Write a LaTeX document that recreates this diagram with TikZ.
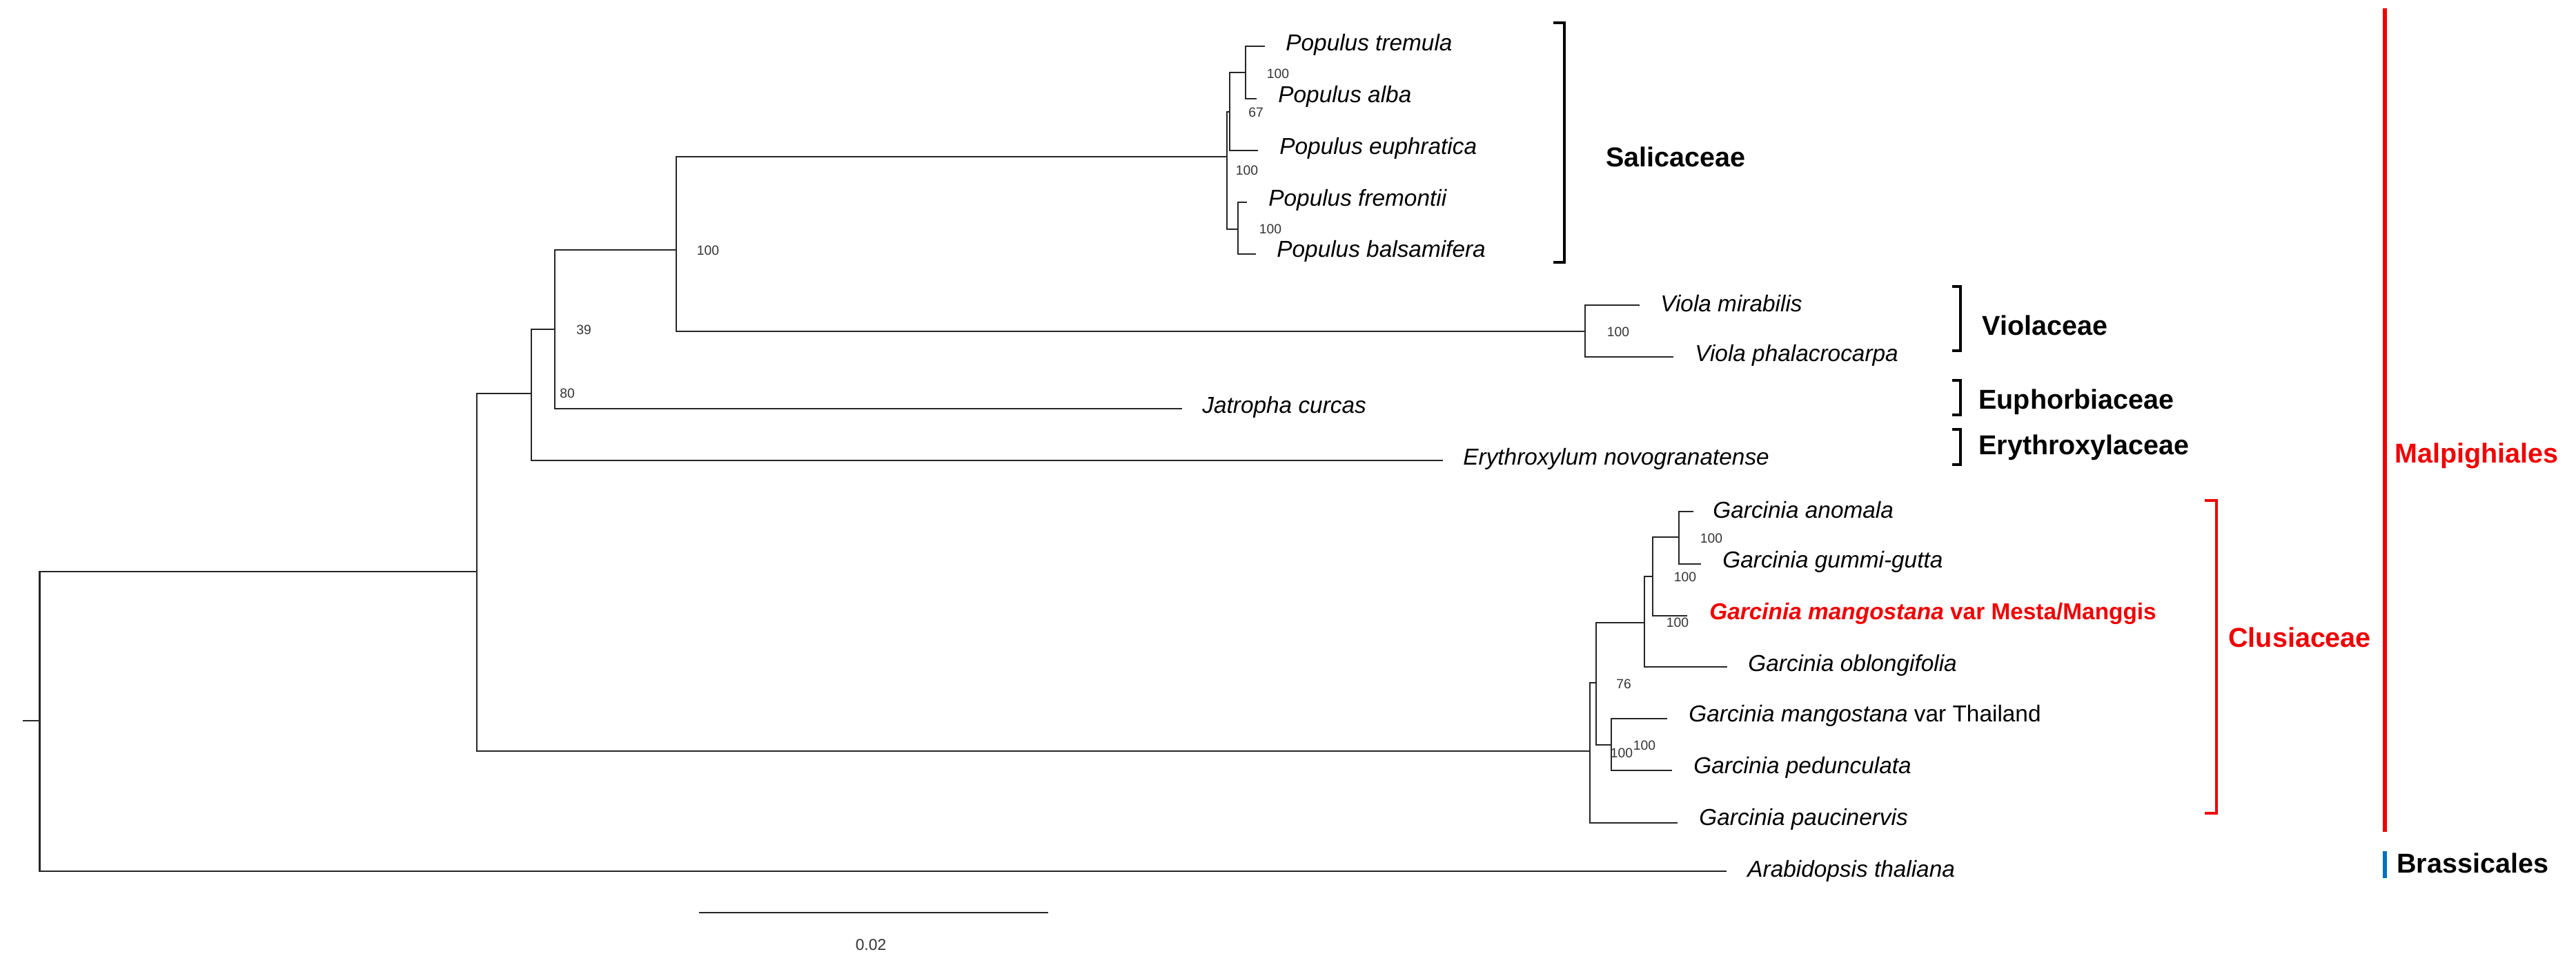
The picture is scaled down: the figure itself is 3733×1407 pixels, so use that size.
\documentclass[tikz,border=0pt]{standalone}
\usepackage{fontspec}
\setmainfont{Liberation Sans}
\definecolor{myred}{RGB}{240,0,0}
\definecolor{myblue}{RGB}{0,112,192}
\begin{document}
\begin{tikzpicture}[x=0.02cm,y=-0.02cm,
  br/.style={line width=1.6pt,black!85},
  bk/.style={line width=2.4pt},
  taxon/.style={anchor=west,inner sep=0pt,font=\fontsize{19}{22}\selectfont\itshape},
  fam/.style={anchor=west,inner sep=0pt,font=\fontsize{22.5}{26}\selectfont\bfseries},
  sup/.style={inner sep=0pt,font=\fontsize{11}{13}\selectfont,black!80}]
\useasboundingbox (0,0) rectangle (3733,1407);
% internal nodes
\coordinate (stub) at (33,1044);
\coordinate (R) at (57.5,1044);
\coordinate (I) at (691,828);
\coordinate (A) at (770,570);
\coordinate (B) at (804,477);
\coordinate (C) at (980,362);
\coordinate (P0) at (1778,227);
\coordinate (P2) at (1782,162);
\coordinate (P1) at (1805,105);
\coordinate (FB) at (1794,332);
\coordinate (V) at (2297,480);
\coordinate (G) at (2304,1088);
\coordinate (H) at (2313,989);
\coordinate (T) at (2335,1079);
\coordinate (K) at (2383,902);
\coordinate (L) at (2395,835);
\coordinate (M) at (2433,778);
% tips
\coordinate (tr) at (1833,67);
\coordinate (al) at (1821,143);
\coordinate (eu) at (1823,218);
\coordinate (fr) at (1807,293);
\coordinate (ba) at (1820,368);
\coordinate (vm) at (2376,442);
\coordinate (vp) at (2425,517);
\coordinate (ja) at (1713,592);
\coordinate (er) at (2091,667);
\coordinate (an) at (2454,741);
\coordinate (gu) at (2465,817);
\coordinate (me) at (2445,892);
\coordinate (ob) at (2503,966);
\coordinate (th) at (2416,1041);
\coordinate (pe) at (2423,1116);
\coordinate (pa) at (2431,1192);
\coordinate (ar) at (2502,1262);
% branches
\draw[br] (stub) -- (R);
\foreach \c/\p in {I/R,ar/R,A/I,G/I,B/A,er/A,C/B,ja/B,P0/C,V/C,P2/P0,FB/P0,P1/P2,eu/P2,tr/P1,al/P1,fr/FB,ba/FB,vm/V,vp/V,H/G,pa/G,K/H,T/H,th/T,pe/T,L/K,ob/K,M/L,me/L,an/M,gu/M}
  \draw[br] (\c) -| (\p);
% taxon labels
\node[taxon] (ttr) at (1863,65) {Populus tremula};
\node[taxon] (tal) at (1852,140) {Populus alba};
\node[taxon] (teu) at (1854,215) {Populus euphratica};
\node[taxon] (tfr) at (1838,290) {Populus fremontii};
\node[taxon] (tba) at (1850,364) {Populus balsamifera};
\node[taxon] (tvm) at (2406,440) {Viola mirabilis};
\node[taxon] (tvp) at (2456,515) {Viola phalacrocarpa};
\node[taxon] (tja) at (1742,590) {Jatropha curcas};
\node[taxon] (ter) at (2120,665) {Erythroxylum novogranatense};
\node[taxon] (tan) at (2482,739) {Garcinia anomala};
\node[taxon] (tgu) at (2496,814) {Garcinia gummi-gutta};
\node[taxon,font=\fontsize{19}{22}\selectfont\bfseries,text=myred] (tme) at (2477,889) {\textit{Garcinia mangostana} var Mesta/Manggis};
\node[taxon] (tob) at (2533,964) {Garcinia oblongifolia};
\node[taxon,font=\fontsize{19}{22}\selectfont] (tth) at (2447,1037) {\textit{Garcinia mangostana} var Thailand};
\node[taxon] (tpe) at (2454,1112) {Garcinia pedunculata};
\node[taxon] (tpa) at (2462,1187) {Garcinia paucinervis};
\node[taxon] (tar) at (2532,1262) {Arabidopsis thaliana};
% support values
\node[sup] (s1) at (1026,363) {100};
\node[sup] (s2) at (846,478) {39};
\node[sup] (s3) at (822,570) {80};
\node[sup] (s4) at (2345,481) {100};
\node[sup] (s5) at (1852,107) {100};
\node[sup] (s6) at (1820,163) {67};
\node[sup] (s7) at (1807,247) {100};
\node[sup] (s8) at (1841,332) {100};
\node[sup] (s9) at (2480,780) {100};
\node[sup] (s10) at (2442,836) {100};
\node[sup] (s11) at (2431,902) {100};
\node[sup] (s12) at (2353,991) {76};
\node[sup] (s13) at (2350,1091) {100};
\node[sup] (s14) at (2383,1080) {100};
% brackets
\draw[bk] (2251,33) -- (2267,33) -- (2267,380) -- (2251,380);
\draw[bk] (2829,415) -- (2841,415) -- (2841,508) -- (2829,508);
\draw[bk] (2829,551) -- (2841,551) -- (2841,601) -- (2829,601);
\draw[bk] (2829,622) -- (2841,622) -- (2841,673) -- (2829,673);
\draw[bk,myred] (3195,725) -- (3212,725) -- (3212,1178) -- (3195,1178);
\draw[line width=3pt,myred] (3456,12) -- (3456,1205);
\draw[line width=3pt,myblue] (3456,1233) -- (3456,1272);
% family labels
\node[fam] (fs) at (2327,227) {Salicaceae};
\node[fam] (fv) at (2872,471) {Violaceae};
\node[fam] (fe) at (2867,582) {Euphorbiaceae};
\node[fam] (fx) at (2867,648) {Erythroxylaceae};
\node[fam,text=myred] (fc) at (3229,923) {Clusiaceae};
\node[fam,text=myred] (fm) at (3470,660) {Malpighiales};
\node[fam] (fb) at (3473,1250) {Brassicales};
% scale bar
\coordinate (sb1) at (1013,1322);
\coordinate (sb2) at (1519,1322);
\draw[br] (sb1) -- (sb2);
\node[sup,font=\fontsize{13}{15}\selectfont] (sbl) at (1262,1369) {0.02};
\end{tikzpicture}
\end{document}
